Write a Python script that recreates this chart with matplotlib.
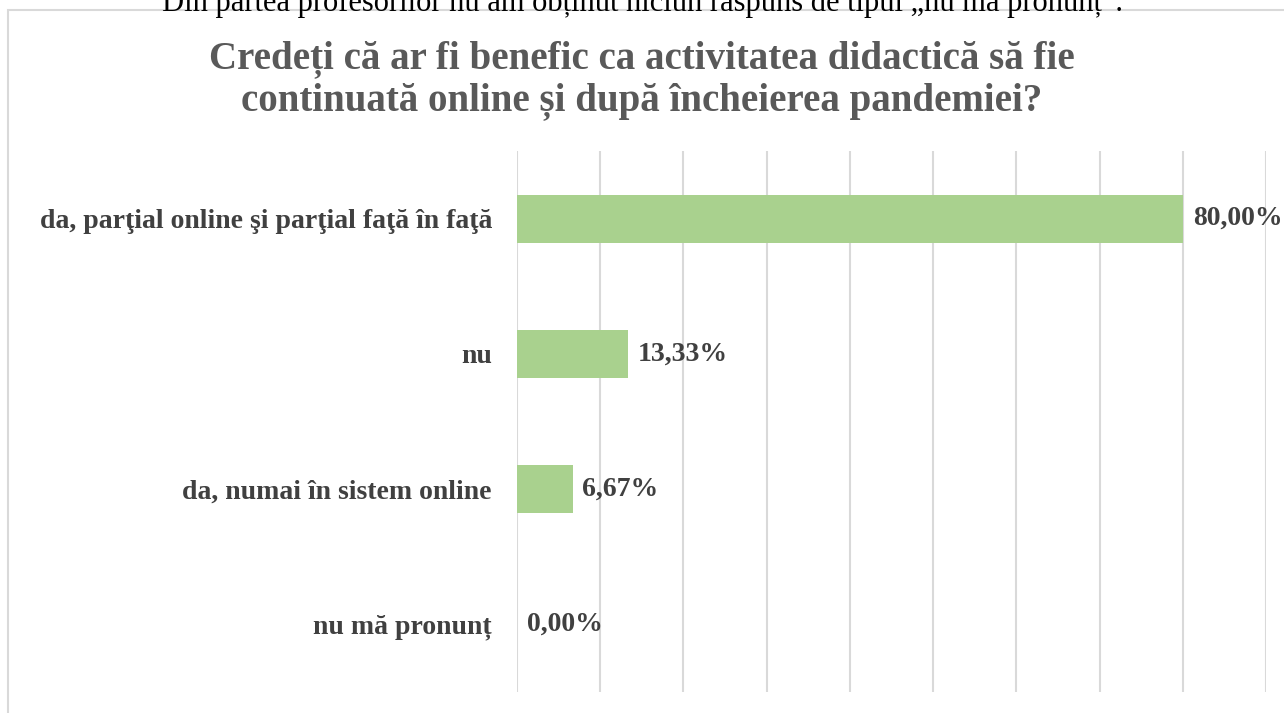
import matplotlib.pyplot as plt
from matplotlib.patches import Rectangle

# categories top to bottom, values in %
categories = ["da, parţial online şi parţial faţă în faţă", "nu",
              "da, numai în sistem online", "nu mă pronunț"]
values = [80.00, 13.33, 6.67, 0.00]
value_labels = ["80,00%", "13,33%", "6,67%", "0,00%"]

title = "Credeți că ar fi benefic ca activitatea didactică să fie\ncontinuată online și după încheierea pandemiei?"
note = "Din partea profesorilor nu am obținut niciun răspuns de tipul „nu mă pronunț”."

plt.rcParams['font.family'] = ['Liberation Serif', 'DejaVu Serif']

fig = plt.figure(figsize=(12.84, 7.13), dpi=100)
fig.patch.set_facecolor('white')

# chart frame
fig.patches.append(Rectangle((8 / 1284, -0.05), 1.2, 1 - 10 / 713 + 0.05,
                             transform=fig.transFigure, fill=False,
                             edgecolor='#d9d9d9', linewidth=1.5))

# partially visible sentence above the chart (cut off in the original)
fig.text(0.5, 1 - 3 / 713, note, ha='center', va='center', fontsize=22,
         color='black')

ax = fig.add_axes([517 / 1284, 1 - 692 / 713, (1266 - 517) / 1284, (692 - 151) / 713])
y = list(range(len(categories)))
ax.barh(y, values, height=0.355, color='#a9d18e', zorder=3)
ax.set_ylim(len(categories) - 0.5, -0.5)
ax.set_xlim(0, 90)
ax.set_xticks(range(0, 91, 10))
ax.grid(axis='x', color='#d9d9d9', linewidth=1.5, zorder=0)
ax.tick_params(axis='x', length=0, labelbottom=False)
ax.tick_params(axis='y', length=0, pad=18)
ax.set_yticks(y)
ax.set_yticklabels(categories, fontsize=20, fontweight='bold', color='#404040')
for s in ax.spines.values():
    s.set_visible(False)

for yi, v, lab in zip(y, values, value_labels):
    ax.text(v + 1.2, yi, lab, ha='left', va='center', fontsize=20,
            fontweight='bold', color='#404040')

fig.text(0.5, 1 - 80 / 713, title, ha='center', va='center', fontsize=28,
         fontweight='bold', color='#595959', linespacing=1.15)

fig.savefig('out.png', dpi=100)
